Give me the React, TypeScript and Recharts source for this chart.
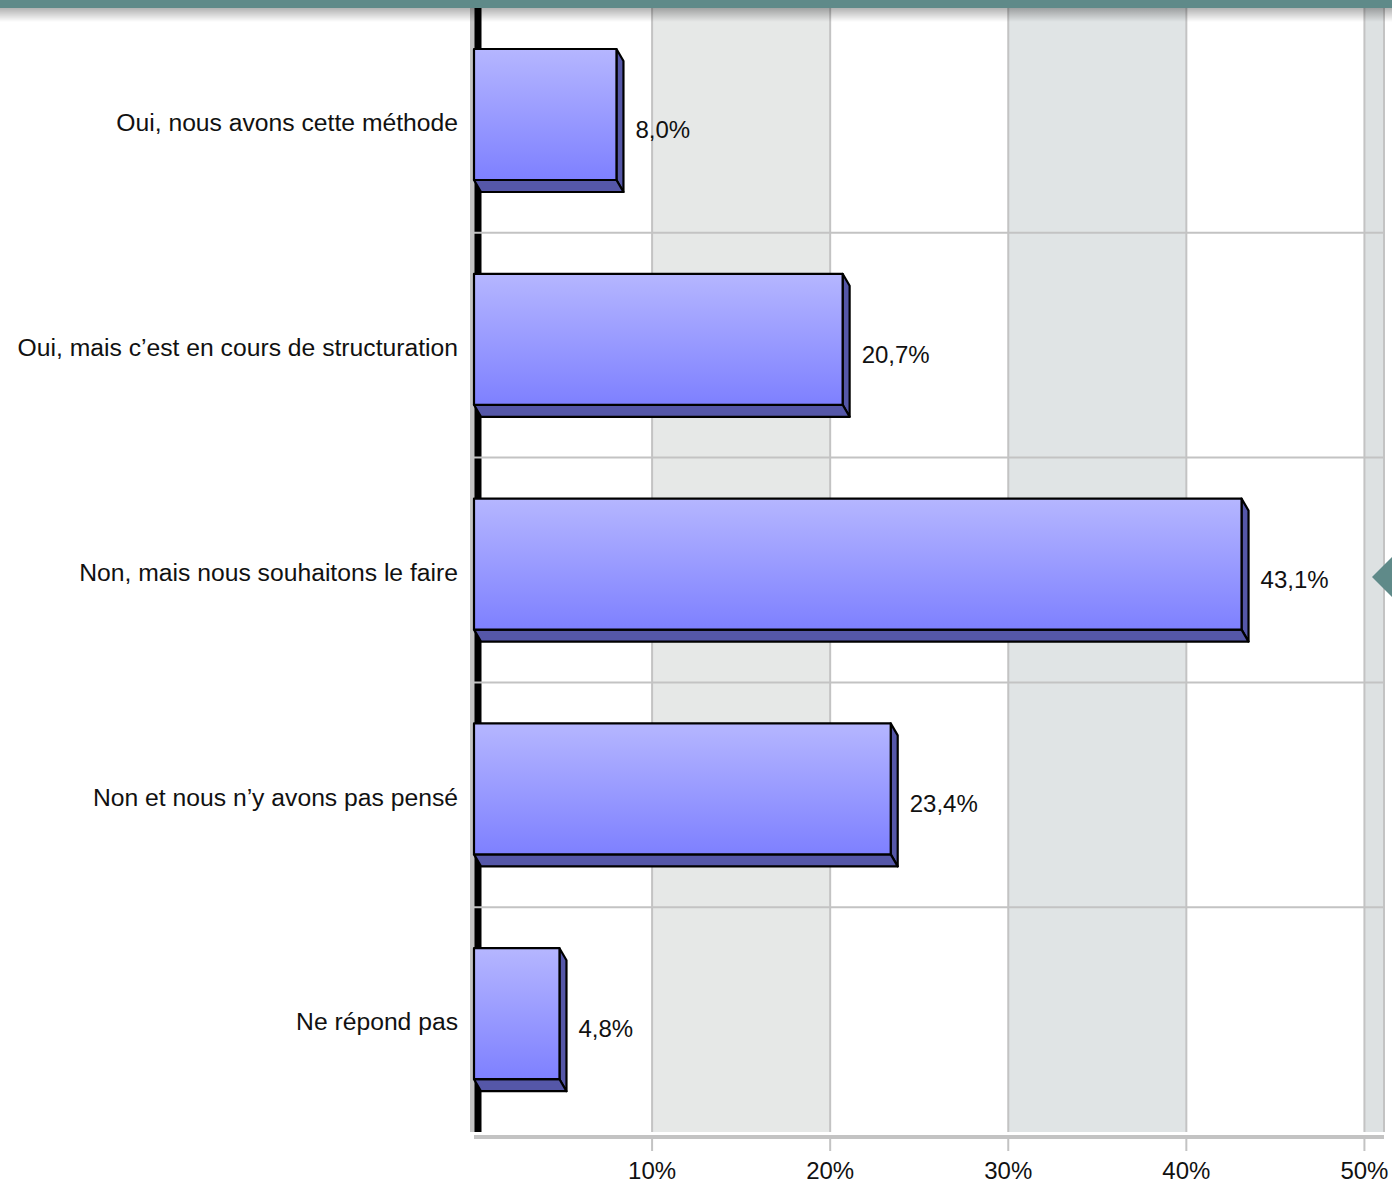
import React from "react";
import {
  BarChart,
  Bar,
  XAxis,
  YAxis,
  CartesianGrid,
  LabelList,
} from "recharts";

const categories = [
  "Oui, nous avons cette méthode",
  "Oui, mais c’est en cours de structuration",
  "Non, mais nous souhaitons le faire",
  "Non et nous n’y avons pas pensé",
  "Ne répond pas",
];

const percentages = [8.0, 20.7, 43.1, 23.4, 4.8];

const xTicks = [10, 20, 30, 40, 50];

const data = categories.map((name, i) => ({ name, value: percentages[i] }));

const FONT = "'Liberation Sans', Arial, sans-serif";
const DX = 7; // depth of the 3d bars
const DY = 12;

const fmt = (v: number) => v.toFixed(1).replace(".", ",") + "%";

// lines between the category bands
const bandLines = ({ offset }: any) =>
  categories.slice(1).map((_, i) => offset.top + ((i + 1) * offset.height) / categories.length);

// front face + side + bottom face, like the old excel 3d bars
function Bar3D(props: any) {
  const { x, width, height } = props;
  const y = props.y - DY / 2;
  if (!width) return null;
  const r = x + width;
  const b = y + height;
  return (
    <g stroke="#000" strokeWidth={2.2} strokeLinejoin="round">
      <path
        d={`M${r},${y} L${r + DX},${y + DY} L${r + DX},${b + DY} L${r},${b} Z`}
        fill="#5557a8"
      />
      <path
        d={`M${x},${b} L${r},${b} L${r + DX},${b + DY} L${x + DX},${b + DY} Z`}
        fill="#5557a8"
      />
      <rect x={x} y={y} width={width} height={height} fill="url(#barGrad)" />
    </g>
  );
}

function ValueLabel(props: any) {
  const { x, y, width, height, value } = props;
  return (
    <text
      x={x + width + DX + 12}
      y={y + height / 2 + 9}
      dominantBaseline="central"
      fontSize={24}
      fontFamily={FONT}
      fill="#111"
    >
      {fmt(value)}
    </text>
  );
}

export default function App() {
  return (
    <div style={{ position: "relative", width: 1392, height: 1185, fontFamily: FONT, background: "#fff" }}>
      <style>{`body{margin:0}`}</style>
      <BarChart
        width={1392}
        height={1185}
        data={data}
        layout="vertical"
        margin={{ top: 8, right: 8, bottom: 0, left: 0 }}
        barSize={131}
      >
        <defs>
          <linearGradient id="barGrad" x1="0" y1="0" x2="0" y2="1">
            <stop offset="0%" stopColor="#b5b6ff" />
            <stop offset="100%" stopColor="#7e80ff" />
          </linearGradient>
        </defs>
        {/* stripes + vertical lines */}
        <CartesianGrid
          horizontal={false}
          stroke="#c3c3c3"
          strokeWidth={2}
          verticalFill={["#ffffff", "#e6e8e7", "#ffffff", "#e0e4e5", "#ffffff", "#dde1e2"]}
          fillOpacity={1}
        />
        {/* the back wall: grey shadow then black */}
        <CartesianGrid
          horizontal={false}
          stroke="#c4c4c4"
          strokeWidth={4}
          verticalCoordinatesGenerator={({ offset }: any) => [offset.left - 2]}
        />
        <CartesianGrid
          horizontal={false}
          stroke="#000"
          strokeWidth={7}
          verticalCoordinatesGenerator={({ offset }: any) => [offset.left + 4]}
        />
        <CartesianGrid
          vertical={false}
          stroke="#c3c3c3"
          strokeWidth={2}
          horizontalCoordinatesGenerator={bandLines}
        />
        <XAxis
          type="number"
          domain={[0, 51.1]}
          ticks={xTicks}
          tickFormatter={(v) => `${v}%`}
          height={53}
          tickSize={14}
          tickMargin={16}
          axisLine={{ stroke: "#c3c3c3", strokeWidth: 4, transform: "translate(0,5)" }}
          tickLine={{ stroke: "#c3c3c3", strokeWidth: 2, transform: "translate(0,5)" }}
          tick={{ fill: "#111", fontSize: 24, fontFamily: FONT }}
        />
        <YAxis
          type="category"
          dataKey="name"
          width={474}
          tickSize={0}
          tickMargin={16}
          tickLine={false}
          axisLine={false}
          tick={{ fill: "#111", fontSize: 24.7, fontFamily: FONT, dy: 2 }}
        />
        <Bar dataKey="value" shape={Bar3D} isAnimationActive={false}>
          <LabelList dataKey="value" content={ValueLabel} />
        </Bar>
      </BarChart>
      {/* slide header band + shadow */}
      <div style={{ position: "absolute", left: 0, top: 0, width: 1392, height: 8, background: "#5f8a89" }} />
      <div
        style={{
          position: "absolute",
          left: 0,
          top: 8,
          width: 1392,
          height: 14,
          background: "linear-gradient(rgba(0,0,0,0.3), rgba(0,0,0,0))",
          pointerEvents: "none",
        }}
      />
      <svg style={{ position: "absolute", left: 1370, top: 555 }} width={22} height={44}>
        <path d="M2,22 L22,2 L22,42 Z" fill="#5f8a89" />
      </svg>
    </div>
  );
}
